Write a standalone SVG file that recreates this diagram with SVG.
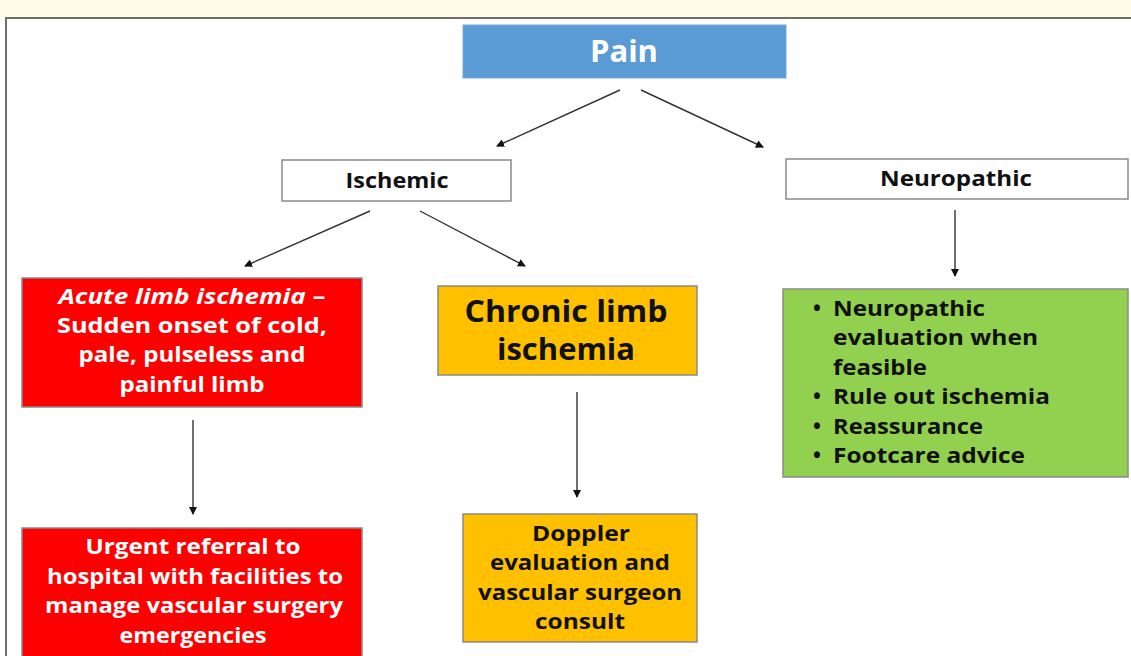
<svg xmlns="http://www.w3.org/2000/svg" width="1131" height="656" viewBox="0 0 1131 656">
<defs>
<marker id="ah" markerWidth="8" markerHeight="8" refX="7" refY="4" orient="auto" markerUnits="userSpaceOnUse">
<path d="M0,0 L8,4 L0,8 Z" fill="#111"/>
</marker>
</defs>
<style>
.t{font-family:"Open Sans","DejaVu Sans",sans-serif;font-weight:700;text-anchor:middle;font-size:21px}
.l{font-family:"Open Sans","DejaVu Sans",sans-serif;font-weight:700;font-size:21px;fill:#111}
.w{fill:#fff}
.k{fill:#111}
.big{font-size:30px}
.box{stroke:#8a8a8a;stroke-width:1.5}
.c{stroke:#333;stroke-width:1.4;fill:none;marker-end:url(#ah)}
</style>
<rect x="0" y="0" width="1131" height="656" fill="#ffffff"/>
<rect x="0" y="0" width="1131" height="17" fill="#fffbe6"/>
<path d="M6,656 L6,18 L1131,18" fill="none" stroke="#6e6e6e" stroke-width="2"/>

<g id="pain">
<rect x="463" y="25" width="323" height="53" fill="#5b9bd5" stroke="#7aa8d8" stroke-width="1"/>
<text class="t w big" x="624" y="62" textLength="68" lengthAdjust="spacingAndGlyphs">Pain</text>
</g>
<g id="ischemic">
<rect class="box" x="282" y="160" width="229" height="41" fill="#fff"/>
<text class="t k" x="397" y="188" textLength="103" lengthAdjust="spacingAndGlyphs">Ischemic</text>
</g>
<g id="neuropathic">
<rect class="box" x="786" y="159" width="342" height="40" fill="#fff"/>
<text class="t k" x="956" y="186" textLength="152" lengthAdjust="spacingAndGlyphs">Neuropathic</text>
</g>
<g id="acute">
<rect class="box" x="22" y="278" width="340" height="129" fill="#ff0000"/>
<text class="t w" x="192" y="304" textLength="267" lengthAdjust="spacingAndGlyphs"><tspan font-style="italic">Acute limb ischemia</tspan> –</text>
<text class="t w" x="192" y="333" textLength="270" lengthAdjust="spacingAndGlyphs">Sudden onset of cold,</text>
<text class="t w" x="192" y="362" textLength="227" lengthAdjust="spacingAndGlyphs">pale, pulseless and</text>
<text class="t w" x="192" y="392" textLength="145" lengthAdjust="spacingAndGlyphs">painful limb</text>
</g>
<g id="chronic">
<rect class="box" x="438" y="286" width="259" height="89" fill="#ffc000"/>
<text class="t k big" x="566" y="322" textLength="203" lengthAdjust="spacingAndGlyphs">Chronic limb</text>
<text class="t k big" x="566" y="360" textLength="138" lengthAdjust="spacingAndGlyphs">ischemia</text>
</g>
<g id="neuro-care">
<rect class="box" x="783" y="289" width="345" height="188" fill="#92d050"/>
<text class="l" x="813" y="316">•</text>
<text class="l" x="833" y="316" textLength="152" lengthAdjust="spacingAndGlyphs">Neuropathic</text>
<text class="l" x="833" y="345" textLength="205" lengthAdjust="spacingAndGlyphs">evaluation when</text>
<text class="l" x="833" y="375" textLength="94" lengthAdjust="spacingAndGlyphs">feasible</text>
<text class="l" x="813" y="404">•</text>
<text class="l" x="833" y="404" textLength="217" lengthAdjust="spacingAndGlyphs">Rule out ischemia</text>
<text class="l" x="813" y="434">•</text>
<text class="l" x="833" y="434" textLength="150" lengthAdjust="spacingAndGlyphs">Reassurance</text>
<text class="l" x="813" y="463">•</text>
<text class="l" x="833" y="463" textLength="192" lengthAdjust="spacingAndGlyphs">Footcare advice</text>
</g>
<g id="urgent">
<rect class="box" x="22" y="528" width="340" height="140" fill="#ff0000"/>
<text class="t w" x="193" y="554" textLength="215" lengthAdjust="spacingAndGlyphs">Urgent referral to</text>
<text class="t w" x="195" y="584" textLength="296" lengthAdjust="spacingAndGlyphs">hospital with facilities to</text>
<text class="t w" x="194" y="613" textLength="298" lengthAdjust="spacingAndGlyphs">manage vascular surgery</text>
<text class="t w" x="193" y="643" textLength="147" lengthAdjust="spacingAndGlyphs">emergencies</text>
</g>
<g id="doppler">
<rect class="box" x="463" y="514" width="234" height="128" fill="#ffc000"/>
<text class="t k" x="581" y="541" textLength="98" lengthAdjust="spacingAndGlyphs">Doppler</text>
<text class="t k" x="580" y="570" textLength="180" lengthAdjust="spacingAndGlyphs">evaluation and</text>
<text class="t k" x="580" y="600" textLength="204" lengthAdjust="spacingAndGlyphs">vascular surgeon</text>
<text class="t k" x="580" y="629" textLength="90" lengthAdjust="spacingAndGlyphs">consult</text>
</g>
<g id="connectors">
<line class="c" x1="620" y1="90" x2="497" y2="146"/>
<line class="c" x1="641" y1="90" x2="763" y2="147"/>
<line class="c" x1="370" y1="211" x2="245" y2="266"/>
<line class="c" x1="420" y1="211" x2="525" y2="266"/>
<line class="c" x1="955" y1="210" x2="955" y2="276"/>
<line class="c" x1="193" y1="420" x2="193" y2="514"/>
<line class="c" x1="577" y1="392" x2="577" y2="497"/>
</g>
</svg>
